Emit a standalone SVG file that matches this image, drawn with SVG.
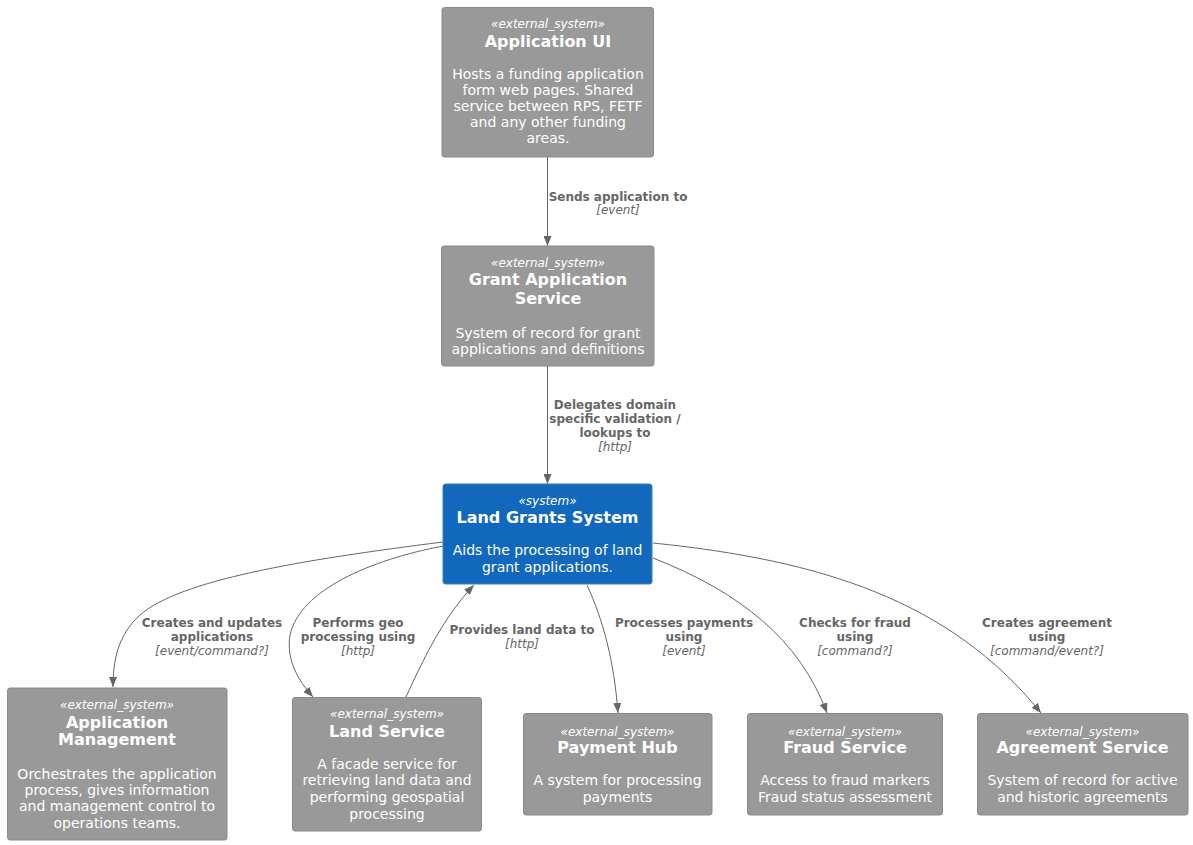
<svg xmlns="http://www.w3.org/2000/svg" width="1193" height="845" viewBox="0 0 1193 845">
<style>
text{font-family:"DejaVu Sans",Verdana,sans-serif;text-anchor:middle}
.ext{fill:#999999;stroke:#8A8A8A;stroke-width:1}
.sys{fill:#1168BD;stroke:#3C7FC0;stroke-width:1}
.st{font-size:12px;font-style:italic;fill:#FFFFFF}
.ti{font-size:16px;font-weight:bold;fill:#FFFFFF}
.de{font-size:14px;fill:#FFFFFF}
.edge{fill:none;stroke:#666666;stroke-width:1}
.lb{font-size:12px;font-weight:bold;fill:#666666}
.te{font-size:12px;font-style:italic;fill:#666666}
</style>
<defs>
<marker id="arr" markerWidth="10" markerHeight="8" refX="10" refY="4" orient="auto" markerUnits="userSpaceOnUse">
<path d="M0,0 L10,4 L0,8 z" fill="#666666"/>
</marker>
</defs>
<rect width="1193" height="845" fill="#FFFFFF"/>

<g id="connectors">
<path class="edge" d="M547.5,157 L547.5,246" marker-end="url(#arr)"/>
<text class="lb" x="618" y="201">Sends application to</text>
<text class="te" x="618" y="214">[event]</text>

<path class="edge" d="M547.5,366 L547.5,484" marker-end="url(#arr)"/>
<text class="lb" x="615" y="409">Delegates domain</text>
<text class="lb" x="615" y="423">specific validation /</text>
<text class="lb" x="615" y="437">lookups to</text>
<text class="te" x="615" y="451">[http]</text>

<path class="edge" d="M443,542 C300,560 180,580 140,615 C118,635 113,660 113,687" marker-end="url(#arr)"/>
<text class="lb" x="212" y="627">Creates and updates</text>
<text class="lb" x="212" y="641">applications</text>
<text class="te" x="212" y="655">[event/command?]</text>

<path class="edge" d="M443,546 C370,560 300,590 290,635 C286,660 298,680 313,697" marker-end="url(#arr)"/>
<text class="lb" x="358" y="627">Performs geo</text>
<text class="lb" x="358" y="641">processing using</text>
<text class="te" x="358" y="655">[http]</text>

<path class="edge" d="M406,697 C425,655 445,615 474,585" marker-end="url(#arr)"/>
<text class="lb" x="522" y="634">Provides land data to</text>
<text class="te" x="522" y="648">[http]</text>

<path class="edge" d="M587,585 C603,620 614,660 618,713" marker-end="url(#arr)"/>
<text class="lb" x="684" y="627">Processes payments</text>
<text class="lb" x="684" y="641">using</text>
<text class="te" x="684" y="655">[event]</text>

<path class="edge" d="M653,558 C740,592 800,640 827,713" marker-end="url(#arr)"/>
<text class="lb" x="855" y="627">Checks for fraud</text>
<text class="lb" x="855" y="641">using</text>
<text class="te" x="855" y="655">[command?]</text>

<path class="edge" d="M653,543 C820,560 950,600 1041,713" marker-end="url(#arr)"/>
<text class="lb" x="1047" y="627">Creates agreement</text>
<text class="lb" x="1047" y="641">using</text>
<text class="te" x="1047" y="655">[command/event?]</text>
</g>

<g id="application-ui">
<rect class="ext" x="442" y="7.5" width="211.5" height="149.5" rx="2.5"/>
<text class="st" x="548" y="27.5">«external_system»</text>
<text class="ti" x="548" y="46.5">Application UI</text>
<text class="de" x="548" y="79">Hosts a funding application</text>
<text class="de" x="548" y="95">form web pages. Shared</text>
<text class="de" x="548" y="111">service between RPS, FETF</text>
<text class="de" x="548" y="127">and any other funding</text>
<text class="de" x="548" y="143">areas.</text>
</g>

<g id="grant-application-service">
<rect class="ext" x="441.5" y="246" width="212.5" height="120" rx="2.5"/>
<text class="st" x="548" y="267">«external_system»</text>
<text class="ti" x="548" y="285">Grant Application</text>
<text class="ti" x="548" y="304">Service</text>
<text class="de" x="548" y="338">System of record for grant</text>
<text class="de" x="548" y="354">applications and definitions</text>
</g>

<g id="land-grants-system">
<rect class="sys" x="443" y="484" width="209" height="100" rx="2.5"/>
<text class="st" x="547.5" y="504.5">«system»</text>
<text class="ti" x="547.5" y="522.5">Land Grants System</text>
<text class="de" x="547.5" y="555">Aids the processing of land</text>
<text class="de" x="547.5" y="572">grant applications.</text>
</g>

<g id="application-management">
<rect class="ext" x="7.5" y="688" width="219.5" height="152" rx="2.5"/>
<text class="st" x="117" y="708.5">«external_system»</text>
<text class="ti" x="117" y="727.5">Application</text>
<text class="ti" x="117" y="745">Management</text>
<text class="de" x="117" y="778.5">Orchestrates the application</text>
<text class="de" x="117" y="795">process, gives information</text>
<text class="de" x="117" y="811">and management control to</text>
<text class="de" x="117" y="827.5">operations teams.</text>
</g>

<g id="land-service">
<rect class="ext" x="292.5" y="697.5" width="189" height="133.5" rx="2.5"/>
<text class="st" x="387" y="717.5">«external_system»</text>
<text class="ti" x="387" y="736.5">Land Service</text>
<text class="de" x="387" y="769">A facade service for</text>
<text class="de" x="387" y="785">retrieving land data and</text>
<text class="de" x="387" y="802">performing geospatial</text>
<text class="de" x="387" y="819">processing</text>
</g>

<g id="payment-hub">
<rect class="ext" x="523.5" y="713.5" width="188.5" height="101.5" rx="2.5"/>
<text class="st" x="617.5" y="735.5">«external_system»</text>
<text class="ti" x="617.5" y="752.5">Payment Hub</text>
<text class="de" x="617.5" y="785">A system for processing</text>
<text class="de" x="617.5" y="802">payments</text>
</g>

<g id="fraud-service">
<rect class="ext" x="747.5" y="713.5" width="195" height="101.5" rx="2.5"/>
<text class="st" x="845" y="735.5">«external_system»</text>
<text class="ti" x="845" y="752.5">Fraud Service</text>
<text class="de" x="845" y="785">Access to fraud markers</text>
<text class="de" x="845" y="802">Fraud status assessment</text>
</g>

<g id="agreement-service">
<rect class="ext" x="977.5" y="713.5" width="210.5" height="101.5" rx="2.5"/>
<text class="st" x="1082.5" y="735.5">«external_system»</text>
<text class="ti" x="1082.5" y="752.5">Agreement Service</text>
<text class="de" x="1082.5" y="785">System of record for active</text>
<text class="de" x="1082.5" y="802">and historic agreements</text>
</g>
</svg>
